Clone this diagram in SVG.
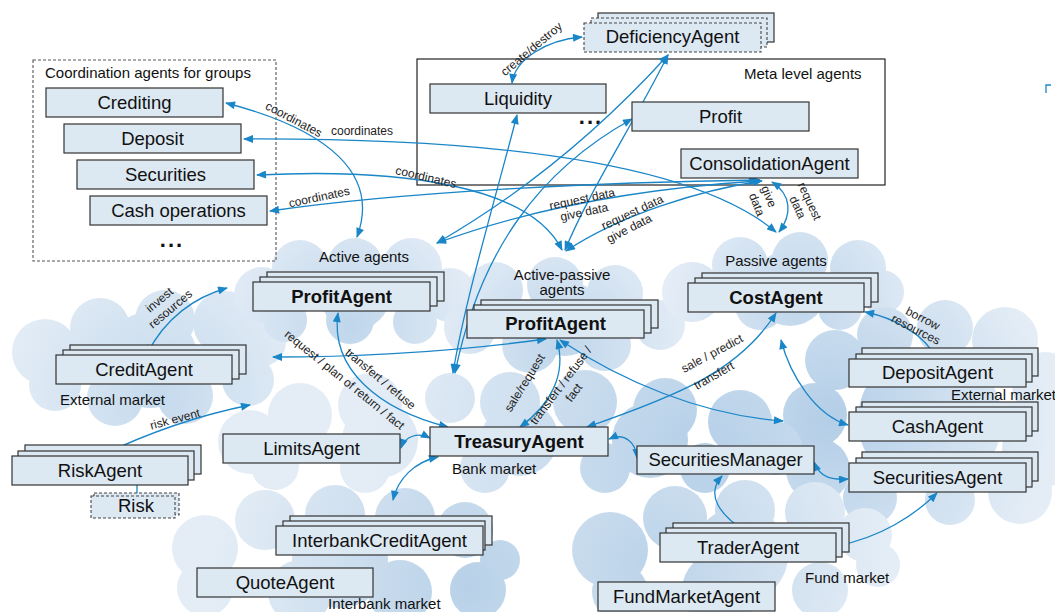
<svg xmlns="http://www.w3.org/2000/svg" width="1055" height="612" viewBox="0 0 1055 612">
<defs>
<radialGradient id="gA" gradientUnits="userSpaceOnUse" cx="350" cy="325" r="140"><stop offset="0" stop-color="#bfd6eb"/><stop offset="1" stop-color="#e6eef7"/></radialGradient>
<radialGradient id="gB" gradientUnits="userSpaceOnUse" cx="560" cy="345" r="140"><stop offset="0" stop-color="#bfd6eb"/><stop offset="1" stop-color="#e6eef7"/></radialGradient>
<radialGradient id="gC" gradientUnits="userSpaceOnUse" cx="800" cy="305" r="140"><stop offset="0" stop-color="#bfd6eb"/><stop offset="1" stop-color="#e6eef7"/></radialGradient>
<radialGradient id="gD" gradientUnits="userSpaceOnUse" cx="160" cy="395" r="160"><stop offset="0" stop-color="#c5daed"/><stop offset="1" stop-color="#e4edf6"/></radialGradient>
<radialGradient id="gE" gradientUnits="userSpaceOnUse" cx="700" cy="450" r="330"><stop offset="0" stop-color="#b6d0e8"/><stop offset="1" stop-color="#e4edf6"/></radialGradient>
<radialGradient id="gF" gradientUnits="userSpaceOnUse" cx="830" cy="420" r="220"><stop offset="0" stop-color="#b3cee7"/><stop offset="1" stop-color="#e4edf6"/></radialGradient>
<radialGradient id="gG" gradientUnits="userSpaceOnUse" cx="470" cy="585" r="260"><stop offset="0" stop-color="#b8d1e8"/><stop offset="1" stop-color="#e4edf6"/></radialGradient>
<radialGradient id="gH" gradientUnits="userSpaceOnUse" cx="650" cy="565" r="240"><stop offset="0" stop-color="#bbd3e9"/><stop offset="1" stop-color="#e4edf6"/></radialGradient>
<marker id="a" viewBox="0 0 10 8" refX="9" refY="4" markerWidth="11" markerHeight="8" markerUnits="userSpaceOnUse" orient="auto-start-reverse"><path d="M0,0L10,4L0,8z" fill="#1a86c8"/></marker>
<style>
.box{fill:#dce8f2;stroke:#333;stroke-width:1.2}
.dbox{fill:#dce8f2;stroke:#444;stroke-width:1.1;stroke-dasharray:3 2}
.lbl{font-family:"Liberation Sans",Arial,sans-serif;font-size:18.5px;fill:#111;text-anchor:middle}
.b{font-weight:bold}
.grp{font-family:"Liberation Sans",Arial,sans-serif;font-size:15px;fill:#111}
.el{font-family:"Liberation Sans",Arial,sans-serif;font-size:12px;fill:#222;text-anchor:middle}
.cn{fill:none;stroke:#1a86c8;stroke-width:1.3}
.bi{marker-start:url(#a);marker-end:url(#a)}
.one{marker-end:url(#a)}
</style>
</defs>
<rect width="1055" height="612" fill="#fff"/>

<g id="clouds">
<g id="cloud-external-left" fill="url(#gD)">
<circle cx="45" cy="352" r="33"/><circle cx="100" cy="328" r="30"/><circle cx="165" cy="320" r="30"/><circle cx="225" cy="323" r="32"/><circle cx="262" cy="342" r="24"/><circle cx="248" cy="380" r="26"/><circle cx="185" cy="396" r="28"/><circle cx="115" cy="398" r="28"/><circle cx="55" cy="385" r="26"/><circle cx="150" cy="360" r="48"/>
</g>
<g id="cloud-active" fill="url(#gA)">
<circle cx="262" cy="295" r="28"/><circle cx="300" cy="268" r="28"/><circle cx="355" cy="266" r="28"/><circle cx="412" cy="268" r="30"/><circle cx="450" cy="295" r="27"/><circle cx="415" cy="322" r="22"/><circle cx="350" cy="320" r="24"/><circle cx="285" cy="320" r="22"/><circle cx="355" cy="295" r="35"/>
</g>
<g id="cloud-active-passive" fill="url(#gB)">
<circle cx="495" cy="290" r="28"/><circle cx="555" cy="285" r="28"/><circle cx="615" cy="293" r="28"/><circle cx="660" cy="325" r="25"/><circle cx="470" cy="328" r="26"/><circle cx="530" cy="345" r="28"/><circle cx="605" cy="345" r="26"/><circle cx="565" cy="318" r="38"/>
</g>
<g id="cloud-passive" fill="url(#gC)">
<circle cx="692" cy="292" r="30"/><circle cx="740" cy="265" r="28"/><circle cx="800" cy="260" r="28"/><circle cx="858" cy="268" r="28"/><circle cx="882" cy="292" r="22"/><circle cx="840" cy="308" r="22"/><circle cx="760" cy="305" r="25"/><circle cx="790" cy="288" r="38"/>
</g>
<g id="cloud-external-right" fill="url(#gF)">
<circle cx="835" cy="360" r="30"/><circle cx="885" cy="335" r="28"/><circle cx="945" cy="328" r="28"/><circle cx="1005" cy="340" r="33"/><circle cx="1045" cy="385" r="33"/><circle cx="815" cy="415" r="32"/><circle cx="1040" cy="450" r="38"/><circle cx="818" cy="470" r="32"/><circle cx="870" cy="498" r="27"/><circle cx="950" cy="500" r="25"/><circle cx="1020" cy="492" r="32"/><circle cx="930" cy="420" r="72"/>
</g>
<g id="cloud-bank" fill="url(#gE)">
<circle cx="250" cy="442" r="32"/><circle cx="300" cy="415" r="32"/><circle cx="370" cy="405" r="32"/><circle cx="450" cy="398" r="25"/><circle cx="510" cy="402" r="30"/><circle cx="585" cy="402" r="32"/><circle cx="665" cy="410" r="32"/><circle cx="740" cy="422" r="32"/><circle cx="775" cy="448" r="27"/><circle cx="705" cy="468" r="25"/><circle cx="605" cy="468" r="25"/><circle cx="485" cy="468" r="25"/><circle cx="365" cy="468" r="25"/><circle cx="275" cy="466" r="24"/><circle cx="380" cy="440" r="38"/><circle cx="520" cy="438" r="38"/><circle cx="650" cy="440" r="38"/>
</g>
<g id="cloud-interbank" fill="url(#gG)">
<circle cx="205" cy="548" r="33"/><circle cx="265" cy="520" r="30"/><circle cx="335" cy="515" r="30"/><circle cx="405" cy="518" r="30"/><circle cx="465" cy="530" r="28"/><circle cx="500" cy="560" r="20"/><circle cx="478" cy="590" r="28"/><circle cx="400" cy="592" r="32"/><circle cx="300" cy="592" r="32"/><circle cx="205" cy="588" r="28"/><circle cx="340" cy="560" r="48"/>
</g>
<g id="cloud-fund" fill="url(#gH)">
<circle cx="610" cy="550" r="38"/><circle cx="675" cy="518" r="32"/><circle cx="745" cy="510" r="30"/><circle cx="815" cy="512" r="30"/><circle cx="865" cy="535" r="27"/><circle cx="878" cy="565" r="22"/><circle cx="820" cy="590" r="28"/><circle cx="720" cy="590" r="38"/><circle cx="620" cy="592" r="28"/><circle cx="740" cy="555" r="48"/>
</g>
</g>

<g id="cloud-labels" class="grp">
<text x="364" y="262" text-anchor="middle">Active agents</text>
<text x="562" y="280" text-anchor="middle">Active-passive</text>
<text x="562" y="295" text-anchor="middle">agents</text>
<text x="776" y="266" text-anchor="middle">Passive agents</text>
<text x="60" y="405">External market</text>
<text x="452" y="474">Bank market</text>
<text x="951" y="400">External market</text>
<text x="328" y="609">Interbank market</text>
<text x="805" y="583">Fund market</text>
</g>

<g id="coordination-group">
<rect x="33" y="60" width="243" height="201" fill="none" stroke="#555" stroke-width="1.1" stroke-dasharray="3 2"/>
<text class="grp" x="45" y="78">Coordination agents for groups</text>
<text x="172" y="247" font-family="Liberation Sans, Arial, sans-serif" font-size="22" font-weight="bold" text-anchor="middle" letter-spacing="2" fill="#111">...</text>
</g>
<g id="meta-group">
<rect x="417" y="59" width="468" height="126" fill="none" stroke="#222" stroke-width="1.2"/>
<text class="grp" x="744" y="79">Meta level agents</text>
<text x="591" y="124" font-family="Liberation Sans, Arial, sans-serif" font-size="22" font-weight="bold" text-anchor="middle" letter-spacing="2" fill="#111">...</text>
</g>

<g id="connectors">
<path class="cn bi" d="M226,103C330,130 380,175 357,237"/>
<path class="cn bi" d="M244,139C480,138 690,160 776,232"/>
<path class="cn bi" d="M257,175C400,168 530,185 562,250"/>
<path class="cn bi" d="M270,211C400,192 600,182 760,180"/>
<path class="cn bi" d="M437,243C540,205 650,188 758,181"/>
<path class="cn bi" d="M566,251C620,215 700,190 762,181"/>
<path class="cn bi" d="M772,182C792,195 792,215 779,232"/>
<path class="cn bi" d="M582,37C545,40 515,60 512,83"/>
<path class="cn bi" d="M517,115C495,200 465,300 453,373"/>
<path class="cn bi" d="M632,119C540,170 480,250 455,373"/>
<path class="cn bi" d="M668,55C600,130 520,195 437,243"/>
<path class="cn bi" d="M668,55C630,130 590,190 565,250"/>
<path class="cn bi" d="M147,354C165,318 195,297 227,288"/>
<path class="cn bi" d="M546,339C450,352 350,357 273,357"/>
<path class="cn bi" d="M338,313C330,370 380,410 448,427"/>
<path class="cn one" d="M100,456C150,432 200,415 250,405"/>
<path class="cn" d="M137,485L137,493"/>
<path class="cn bi" d="M401,448C405,436 418,432 430,438"/>
<path class="cn bi" d="M438,457C415,462 398,478 393,500"/>
<path class="cn bi" d="M557,340C567,375 550,405 520,427"/>
<path class="cn bi" d="M560,340C620,380 700,415 783,421"/>
<path class="cn bi" d="M776,313C740,370 680,395 587,427"/>
<path class="cn bi" d="M865,312C895,318 925,335 936,358"/>
<path class="cn bi" d="M781,340C790,375 815,415 848,425"/>
<path class="cn bi" d="M609,439C625,432 636,443 637,458"/>
<path class="cn bi" d="M814,462C820,478 832,480 848,479"/>
<path class="cn bi" d="M722,476C705,495 720,515 746,532"/>
<path class="cn bi" d="M836,546C880,538 915,515 937,493"/>
<path class="cn" stroke-width="1.6" d="M1046,93L1046,85L1051,85"/>
</g>

<g id="edge-labels" class="el">
<text transform="translate(292,123) rotate(28)">coordinates</text>
<text x="362" y="135">coordinates</text>
<text transform="translate(425,181) rotate(13)">coordinates</text>
<text transform="translate(320,201) rotate(-12)">coordinates</text>
<text transform="translate(583,203) rotate(-12)">request data</text>
<text transform="translate(585,216) rotate(-12)">give data</text>
<text transform="translate(634,216) rotate(-25)">request data</text>
<text transform="translate(631,232) rotate(-27)">give data</text>
<text transform="translate(765,198) rotate(68)">give</text>
<text transform="translate(753,206) rotate(68)">data</text>
<text transform="translate(806,203) rotate(65)">request</text>
<text transform="translate(794,209) rotate(65)">data</text>
<text transform="translate(534,52) rotate(-40)">create/destroy</text>
<text transform="translate(162,303) rotate(-40)">invest</text>
<text transform="translate(173,312) rotate(-40)">resources</text>
<text transform="translate(176,423) rotate(-15)">risk event</text>
<text transform="translate(342,383) rotate(39)">request / plan of return / fact</text>
<text transform="translate(378,382) rotate(40)">transfert / refuse</text>
<text transform="translate(528,385) rotate(-58)">sale/request</text>
<text transform="translate(564,388) rotate(-53)">transfert / refuse /</text>
<text transform="translate(577,395) rotate(-53)">fact</text>
<text transform="translate(714,357) rotate(-28)">sale / predict</text>
<text transform="translate(716,379) rotate(-30)">transfert</text>
<text transform="translate(921,322) rotate(27)">borrow</text>
<text transform="translate(914,333) rotate(27)">resources</text>
</g>

<g id="n-crediting"><rect class="box" x="46" y="88" width="177" height="29"/><text class="lbl" x="134.5" y="109">Crediting</text></g>
<g id="n-deposit"><rect class="box" x="64" y="124" width="177" height="29"/><text class="lbl" x="152.5" y="145">Deposit</text></g>
<g id="n-securities"><rect class="box" x="77" y="160" width="177" height="29"/><text class="lbl" x="165.5" y="181">Securities</text></g>
<g id="n-cashops"><rect class="box" x="90" y="196" width="177" height="29"/><text class="lbl" x="178.5" y="217">Cash operations</text></g>

<g id="n-liquidity"><rect class="box" x="430" y="84" width="176" height="29"/><text class="lbl" x="518" y="105">Liquidity</text></g>
<g id="n-profit"><rect class="box" x="632" y="102" width="177" height="29"/><text class="lbl" x="720.5" y="123">Profit</text></g>
<g id="n-consolidation"><rect class="box" x="681" y="149" width="177" height="29"/><text class="lbl" x="769.5" y="170">ConsolidationAgent</text></g>
<g id="n-deficiency">
<rect class="box" x="598" y="13" width="176" height="29"/>
<rect class="dbox" x="591" y="18" width="176" height="29"/>
<rect class="dbox" x="584" y="23" width="177" height="29"/>
<text class="lbl" x="672.5" y="43" font-size="16">DeficiencyAgent</text>
</g>

<g id="n-profitagent-active">
<rect class="box" x="267" y="272" width="177" height="29"/><rect class="box" x="260" y="277" width="177" height="29"/><rect class="box" x="253" y="282" width="177" height="29"/>
<text class="lbl b" x="341.5" y="303">ProfitAgent</text>
</g>
<g id="n-profitagent-ap">
<rect class="box" x="481" y="300" width="177" height="28"/><rect class="box" x="474" y="305" width="177" height="28"/><rect class="box" x="467" y="310" width="177" height="28"/>
<text class="lbl b" x="555.5" y="330">ProfitAgent</text>
</g>
<g id="n-costagent">
<rect class="box" x="702" y="273" width="176" height="29"/><rect class="box" x="695" y="278" width="176" height="29"/><rect class="box" x="688" y="283" width="176" height="29"/>
<text class="lbl b" x="776" y="304">CostAgent</text>
</g>
<g id="n-creditagent">
<rect class="box" x="70" y="345" width="176" height="29"/><rect class="box" x="63" y="350" width="176" height="29"/><rect class="box" x="56" y="355" width="176" height="29"/>
<text class="lbl" x="144" y="376">CreditAgent</text>
</g>
<g id="n-riskagent">
<rect class="box" x="25" y="445" width="176" height="29"/><rect class="box" x="18" y="451" width="176" height="29"/><rect class="box" x="12" y="456" width="176" height="29"/>
<text class="lbl" x="100" y="477">RiskAgent</text>
</g>
<g id="n-risk">
<rect class="dbox" x="94" y="493" width="85" height="22"/><rect class="dbox" x="91" y="496" width="84" height="22"/>
<text class="lbl" x="136" y="512" font-size="15.5">Risk</text>
</g>
<g id="n-limits"><rect class="box" x="223" y="434" width="177" height="29"/><text class="lbl" x="311.5" y="455">LimitsAgent</text></g>
<g id="n-treasury"><rect class="box" x="430" y="427" width="178" height="29" stroke-width="2.2" stroke="#222"/><text class="lbl b" x="519" y="448">TreasuryAgent</text></g>
<g id="n-secmanager"><rect class="box" x="637" y="446" width="177" height="28"/><text class="lbl" x="725.5" y="466">SecuritiesManager</text></g>
<g id="n-depositagent">
<rect class="box" x="862" y="348" width="176" height="28"/><rect class="box" x="856" y="354" width="176" height="28"/><rect class="box" x="849" y="359" width="177" height="28"/>
<text class="lbl" x="937.5" y="379">DepositAgent</text>
</g>
<g id="n-cashagent">
<rect class="box" x="862" y="402" width="176" height="29"/><rect class="box" x="856" y="407" width="176" height="29"/><rect class="box" x="849" y="412" width="177" height="29"/>
<text class="lbl" x="937.5" y="433">CashAgent</text>
</g>
<g id="n-securitiesagent">
<rect class="box" x="862" y="452" width="176" height="29"/><rect class="box" x="856" y="458" width="176" height="29"/><rect class="box" x="849" y="463" width="177" height="29"/>
<text class="lbl" x="937.5" y="484">SecuritiesAgent</text>
</g>
<g id="n-interbank">
<rect class="box" x="290" y="516" width="202" height="29"/><rect class="box" x="283" y="521" width="202" height="29"/><rect class="box" x="276" y="526" width="207" height="29"/>
<text class="lbl" x="379.5" y="547">InterbankCreditAgent</text>
</g>
<g id="n-quote"><rect class="box" x="197" y="568" width="176" height="29"/><text class="lbl" x="285" y="589">QuoteAgent</text></g>
<g id="n-trader">
<rect class="box" x="673" y="523" width="176" height="29"/><rect class="box" x="666" y="528" width="176" height="29"/><rect class="box" x="660" y="533" width="176" height="29"/>
<text class="lbl" x="748" y="554">TraderAgent</text>
</g>
<g id="n-fundmarket"><rect class="box" x="598" y="582" width="177" height="29"/><text class="lbl" x="686.5" y="603">FundMarketAgent</text></g>
</svg>
